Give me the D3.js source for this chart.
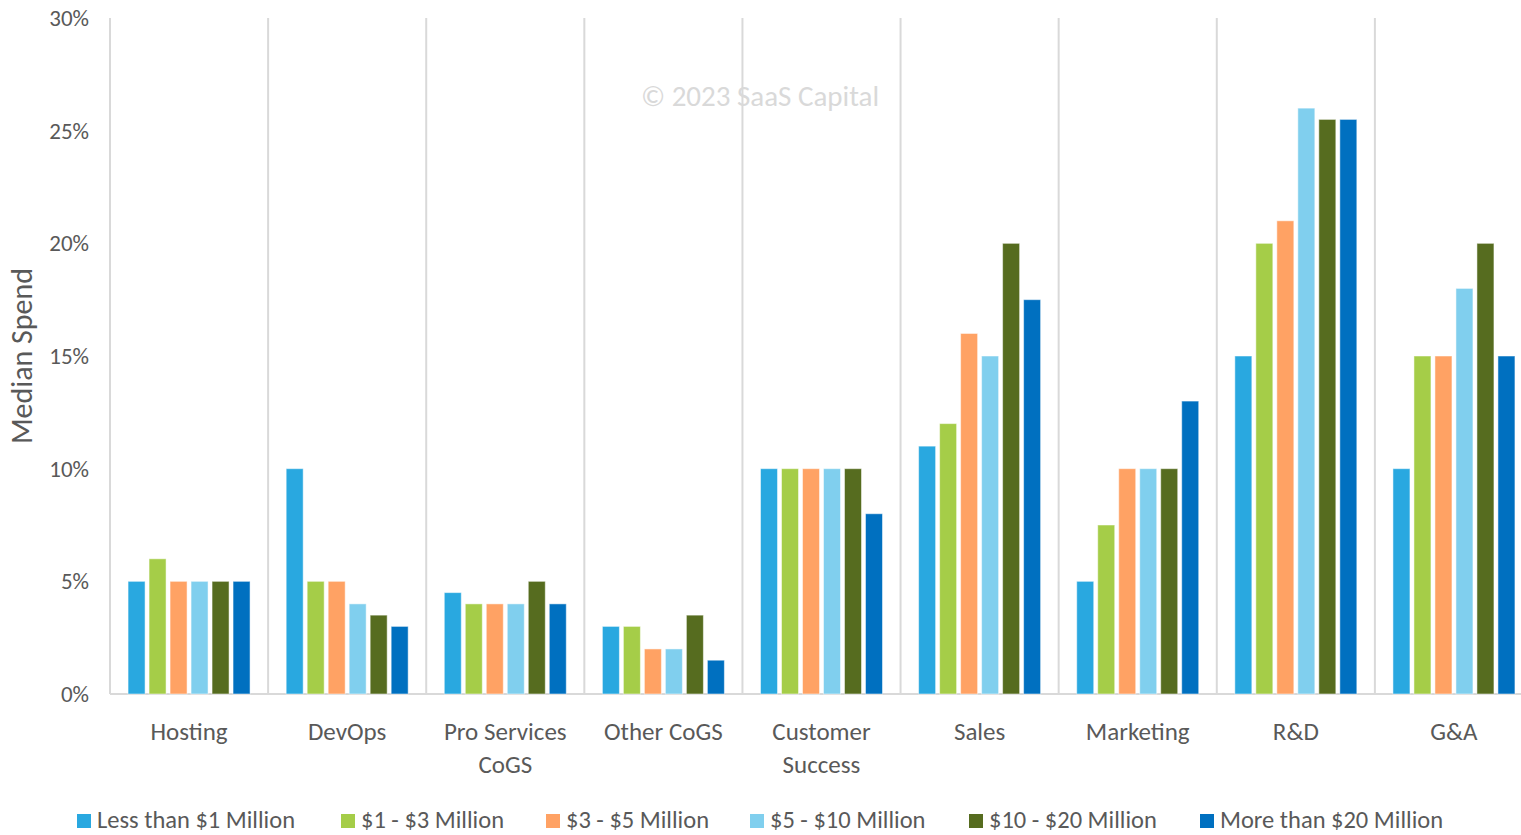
<!DOCTYPE html>
<html>
<head>
<meta charset="utf-8">
<script src="https://cdn.jsdelivr.net/npm/d3@7"></script>
<style>
  body { margin: 0; background: #fff; }
  svg { display: block; font-family: Carlito, Lato, "Liberation Sans", sans-serif; }
</style>
</head>
<body>
<div id="chart-area"></div>
<script>
// categories and series
const categories = ["Hosting", "DevOps", "Pro Services CoGS", "Other CoGS", "Customer Success", "Sales", "Marketing", "R&D", "G&A"];
const catLines = [["Hosting"], ["DevOps"], ["Pro Services", "CoGS"], ["Other CoGS"], ["Customer", "Success"], ["Sales"], ["Marketing"], ["R&D"], ["G&A"]];
const seriesNames = ["Less than $1 Million", "$1 - $3 Million", "$3 - $5 Million", "$5 - $10 Million", "$10 - $20 Million", "More than $20 Million"];
const colorList = ["#29a8e0", "#a5cd48", "#ffa264", "#80cfee", "#566c1f", "#0070c0"];

// median spend, % (one array per revenue band, in category order)
const lessThan1M = [5, 10, 4.5, 3, 10, 11, 5, 15, 10];
const from1to3M  = [6, 5, 4, 3, 10, 12, 7.5, 20, 15];
const from3to5M  = [5, 5, 4, 2, 10, 16, 10, 21, 15];
const from5to10M = [5, 4, 4, 2, 10, 15, 10, 26, 18];
const from10to20M = [5, 3.5, 5, 3.5, 10, 20, 10, 25.5, 20];
const moreThan20M = [5, 3, 4, 1.5, 8, 17.5, 13, 25.5, 15];
const seriesValues = [lessThan1M, from1to3M, from3to5M, from5to10M, from10to20M, moreThan20M];

const yTicks = [0, 5, 10, 15, 20, 25, 30];

const svg = d3.select("#chart-area").append("svg")
  .attr("width", 1521)
  .attr("height", 835);

const x = d3.scaleBand().domain(categories).range([110, 1533]);
const xs = d3.scaleBand().domain(d3.range(6)).range([0, x.bandwidth()])
  .paddingInner(0.19).paddingOuter(0.86);
const y = d3.scaleLinear().domain([0, 30]).range([694, 18]);

// vertical separators between categories
svg.append("g").selectAll("line")
  .data(categories).enter().append("line")
  .attr("x1", d => x(d)).attr("x2", d => x(d))
  .attr("y1", y(30)).attr("y2", y(0))
  .attr("stroke", "#d9d9d9").attr("stroke-width", 2);

// baseline
svg.append("line")
  .attr("x1", 110).attr("x2", 1533)
  .attr("y1", y(0)).attr("y2", y(0))
  .attr("stroke", "#d9d9d9").attr("stroke-width", 2);

// watermark
svg.append("text")
  .attr("x", 760).attr("y", 106)
  .attr("text-anchor", "middle")
  .attr("font-size", 29)
  .attr("fill", "#d9d9d9")
  .text("© 2023 SaaS Capital");

// bars
const rows = [];
categories.forEach((c, i) => {
  seriesValues.forEach((vals, s) => rows.push({ cat: c, s: s, v: vals[i] }));
});
svg.append("g").selectAll("rect")
  .data(rows).enter().append("rect")
  .attr("x", d => x(d.cat) + xs(d.s))
  .attr("y", d => y(d.v))
  .attr("width", xs.bandwidth())
  .attr("height", d => y(0) - y(d.v))
  .attr("fill", d => colorList[d.s])
  .attr("stroke", "#ffffff")
  .attr("stroke-opacity", 0.5)
  .attr("stroke-width", 1);

// y axis labels
svg.append("g").selectAll("text")
  .data(yTicks).enter().append("text")
  .attr("x", 89).attr("y", d => y(d) + 8)
  .attr("text-anchor", "end")
  .attr("font-size", 23)
  .attr("fill", "#595959")
  .text(d => d + "%");

// category labels
const lab = svg.append("g").selectAll("text")
  .data(categories).enter().append("text")
  .attr("x", d => x(d) + x.bandwidth() / 2)
  .attr("y", 740)
  .attr("text-anchor", "middle")
  .attr("font-size", 25)
  .attr("fill", "#595959");
lab.selectAll("tspan")
  .data((d, i) => catLines[i]).enter().append("tspan")
  .attr("x", function () { return d3.select(this.parentNode).attr("x"); })
  .attr("dy", (d, i) => i === 0 ? 0 : 33)
  .text(d => d);

// y title
svg.append("text")
  .attr("transform", "translate(32,356) rotate(-90)")
  .attr("text-anchor", "middle")
  .attr("font-size", 30)
  .attr("fill", "#595959")
  .text("Median Spend");

// legend
const legendX = [77, 341, 546, 750, 969, 1200];
const legend = svg.append("g").selectAll("g")
  .data(seriesNames).enter().append("g")
  .attr("transform", (d, i) => "translate(" + legendX[i] + ",814)");
legend.append("rect")
  .attr("width", 14).attr("height", 14)
  .attr("fill", (d, i) => colorList[i]);
legend.append("text")
  .attr("x", 20).attr("y", 14)
  .attr("font-size", 24.5)
  .attr("fill", "#595959")
  .text(d => d);
</script>
</body>
</html>
